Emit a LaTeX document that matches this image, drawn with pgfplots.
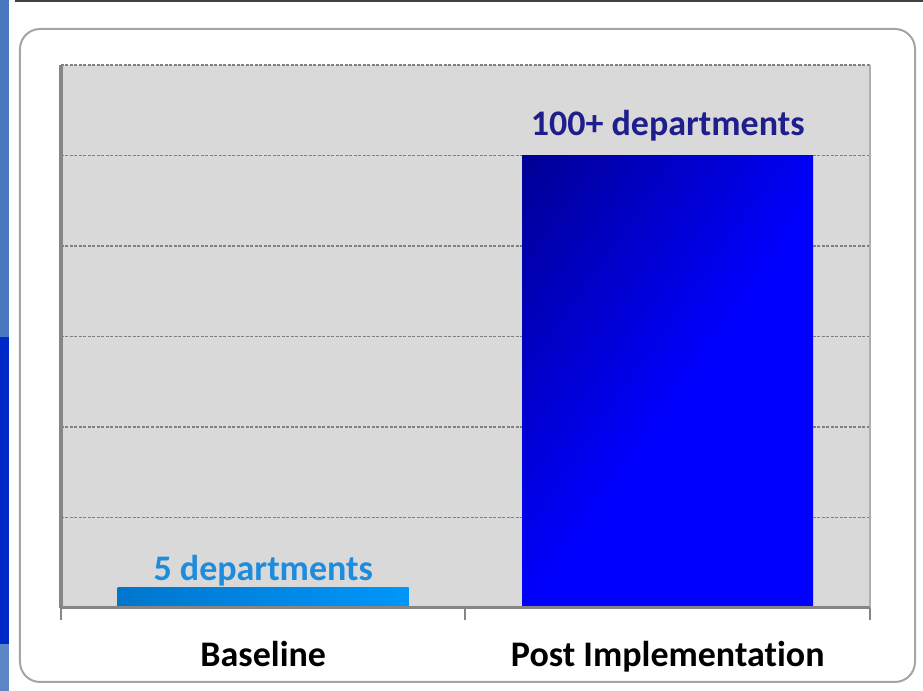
\documentclass[border=0pt]{standalone}
\usepackage{pgfplots}
\pgfplotsset{compat=1.18}
\usepackage{fontspec}
\setmainfont{Carlito}[Ligatures=NoCommon]
\definecolor{stripLight}{RGB}{74,120,192}
\definecolor{stripDark}{RGB}{0,40,200}
\definecolor{topline}{RGB}{64,64,64}
\definecolor{framegray}{RGB}{165,165,165}
\definecolor{plotbg}{RGB}{217,217,217}
\definecolor{gridgray}{RGB}{128,128,128}
\definecolor{axisgray}{RGB}{134,134,134}
\definecolor{rightgray}{RGB}{175,175,175}
\definecolor{labA}{RGB}{30,140,220}
\definecolor{labB}{RGB}{30,30,140}
\definecolor{barAleft}{RGB}{0,118,205}
\definecolor{barAright}{RGB}{0,150,250}
\definecolor{barBtop}{RGB}{0,0,105}
\definecolor{barBbot}{RGB}{0,0,255}
\pgfdeclareverticalshading{barBshade}{100bp}{color(0bp)=(barBbot); color(47bp)=(barBbot); color(100bp)=(barBtop)}
\begin{document}
\begin{tikzpicture}
% background decorations
\fill[white] (-30.5pt,-41.5pt) rectangle (431pt,304pt);
\fill[stripLight] (-30.5pt,304pt) rectangle (-25.75pt,135.5pt);
\fill[stripDark] (-30.5pt,135.5pt) rectangle (-25.75pt,-18pt);
\fill[stripLight!90!white] (-30.5pt,-18pt) rectangle (-25.75pt,-41.5pt);
\fill[topline] (-23pt,304pt) rectangle (431pt,302.75pt);
\draw[framegray, line width=1pt, fill=white, rounded corners=10pt] (-20.5pt,289.5pt) rectangle (427pt,-37pt);
\begin{axis}[
  at={(0,0)}, anchor=south west,
  scale only axis, width=404.5pt, height=271.5pt,
  xmin=-0.5, xmax=1.5, ymin=0, ymax=120,
  xtick={-0.5,0.5,1.5}, xticklabels={},
  xtick pos=bottom,
  major tick length=6pt, tick align=outside,
  xtick style={draw=axisgray, line width=1pt},
  extra x ticks={0,1},
  extra x tick labels={Baseline, Post Implementation},
  extra x tick style={major tick length=0pt, grid=none},
  ytick={20,40,60,80,100,120},
  yticklabels={},
  ytick style={draw=none},
  ymajorgrids,
  y grid style={draw=gridgray, line width=0.6pt, dash pattern=on 1.5pt off 0.75pt},
  axis line style={draw=none},
  axis background/.style={fill=plotbg},
  xticklabel style={font=\fontsize{18}{20}\selectfont\bfseries, text=black, anchor=base, yshift=-29.5pt},
  clip=false,
]
\addplot[ybar, bar width=145.5pt, bar shift=0pt, draw=none,
  left color=barAleft, right color=barAright,
  nodes near coords={5 departments},
  nodes near coords style={anchor=south, inner sep=0pt, yshift=0.5pt, text=labA, font=\fontsize{18}{20}\selectfont\bfseries}]
  coordinates {(0,4.5)};
\addplot[ybar, bar width=145.5pt, bar shift=0pt, draw=none,
  shade, shading=barBshade, shading angle=55,
  nodes near coords={100+ departments},
  nodes near coords style={anchor=south, inner sep=0pt, yshift=7pt, text=labB, font=\fontsize{18}{20}\selectfont\bfseries}]
  coordinates {(1,100)};
\draw[axisgray, line width=1.75pt] (rel axis cs:0,0) -- (rel axis cs:0,1);
\draw[rightgray, line width=1pt] (rel axis cs:1,0) -- (rel axis cs:1,1);
\draw[axisgray, line width=1.5pt] (rel axis cs:0,0) -- (rel axis cs:1,0);
\end{axis}
\pgfresetboundingbox
\path[use as bounding box] (-30.5pt,-41.5pt) rectangle (431pt,304pt);
\end{tikzpicture}
\end{document}
